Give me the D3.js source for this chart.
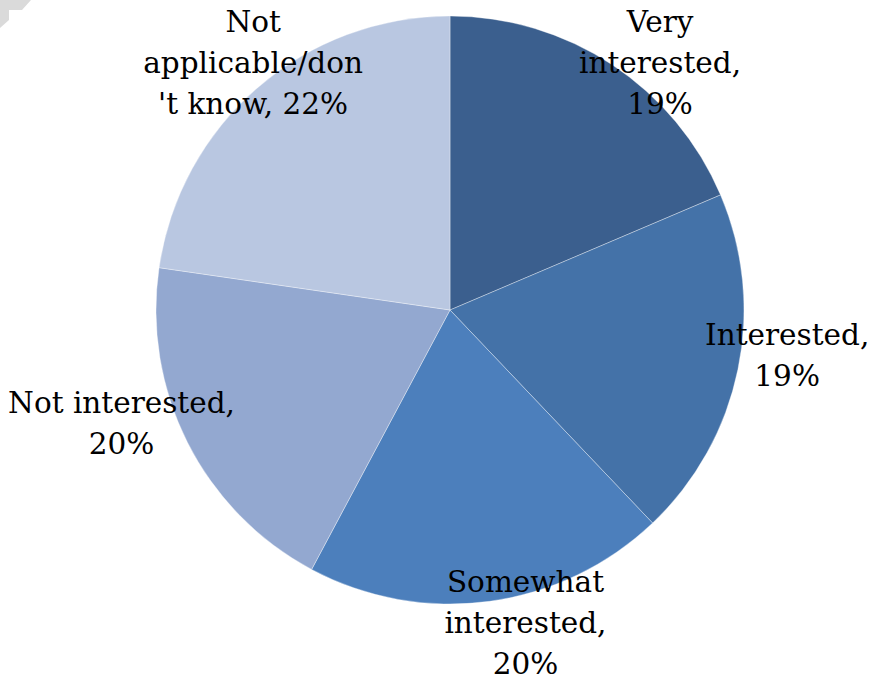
<!DOCTYPE html>
<html>
<head>
<meta charset="utf-8">
<script src="https://cdn.jsdelivr.net/npm/d3@7"></script>
<style>
  html, body { margin: 0; padding: 0; background: #ffffff; }
  svg { display: block; }
</style>
</head>
<body>
<svg id="chart" width="873" height="683"></svg>
<script>
// ---- data ----
const categories = ["Very interested", "Interested", "Somewhat interested", "Not interested", "Not applicable/don't know"];
const values = [18.6, 19.3, 19.9, 19.5, 22.7];
const pctLabels = ["19%", "19%", "20%", "20%", "22%"];
const labelLines = [
  ["Very", "interested,", "19%"],
  ["Interested,", "19%"],
  ["Somewhat", "interested,", "20%"],
  ["Not interested,", "20%"],
  ["Not", "applicable/don", "'t know, 22%"]
];
const colors = ["#3B5F8E", "#4472A8", "#4C7FBC", "#93A8D0", "#B9C7E1"];

// ---- layout ----
const W = 873, H = 683;
const cx = 450, cy = 310, R = 294;
const labelR = 330;
const nudges = [[28, 28], [14, -22], [31, -14], [-34, -36], [19, 2]];
const lineH = 41;

const svg = d3.select("#chart");

// page-corner artifact
svg.append("polygon")
  .attr("points", "0,0 31,0 22,10 9,10 9,20 0,28")
  .attr("fill", "#DADADA");

const pie = d3.pie().value(d => d).sort(null);
const arcs = pie(values);
const arc = d3.arc().innerRadius(0).outerRadius(R);
const labelArc = d3.arc().innerRadius(labelR).outerRadius(labelR);

const g = svg.append("g").attr("transform", `translate(${cx},${cy})`);

g.selectAll("path.slice")
  .data(arcs)
  .enter().append("path")
  .attr("class", "slice")
  .attr("d", arc)
  .attr("fill", (d, i) => colors[i])
  .attr("stroke", "rgba(255,255,255,0.35)")
  .attr("stroke-width", 1);

g.selectAll("text.lbl")
  .data(arcs)
  .enter().append("text")
  .attr("class", "lbl")
  .attr("text-anchor", "middle")
  .attr("font-family", "'DejaVu Serif', serif")
  .attr("font-size", 29.5)
  .attr("fill", "#000")
  .each(function (d, i) {
    const [x, y] = labelArc.centroid(d);
    const bx = x + nudges[i][0], by = y + nudges[i][1];
    const lines = labelLines[i];
    const t = d3.select(this);
    lines.forEach((ln, k) => {
      t.append("tspan")
        .attr("x", bx)
        .attr("y", by + (k - (lines.length - 1) / 2) * lineH)
        .attr("dy", "0.35em")
        .text(ln);
    });
  });
</script>
</body>
</html>
